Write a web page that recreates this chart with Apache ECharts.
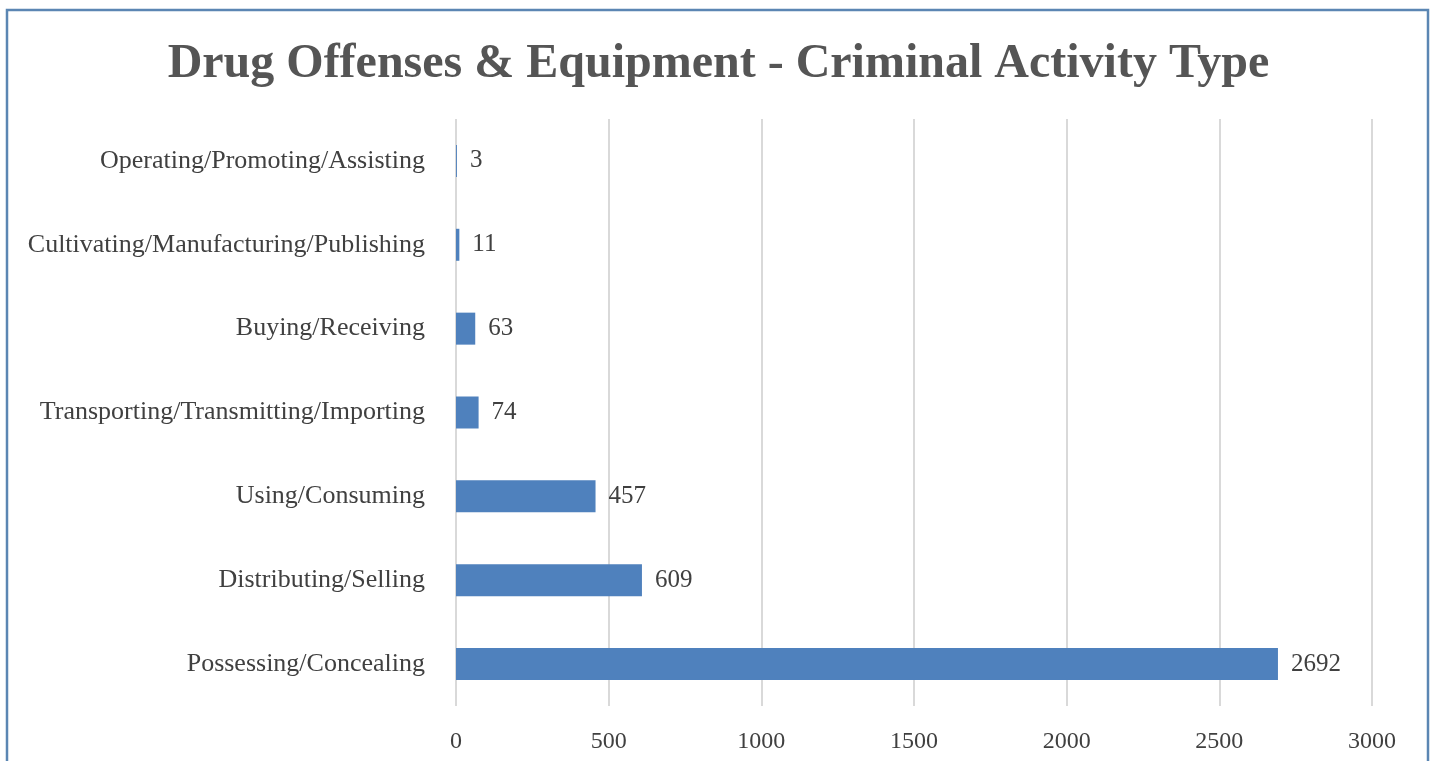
<!DOCTYPE html>
<html><head><meta charset="utf-8">
<script src="https://cdn.jsdelivr.net/npm/echarts@6/dist/echarts.min.js"></script>
<style>html,body{margin:0;padding:0;background:#fff;}#c{width:1437px;height:761px;}</style>
</head><body><div id="c"></div>
<script>
const categories = ["Possessing/Concealing","Distributing/Selling","Using/Consuming","Transporting/Transmitting/Importing","Buying/Receiving","Cultivating/Manufacturing/Publishing","Operating/Promoting/Assisting"];
const values = [2692, 609, 457, 74, 63, 11, 3];
const xTicks = [0, 500, 1000, 1500, 2000, 2500, 3000];
const titleText = "Drug Offenses & Equipment - Criminal Activity Type";

const chart = echarts.init(document.getElementById('c'));
chart.setOption({
  animation: false,
  title: {text: titleText, left: 'center', top: 36,
    textStyle: {fontFamily: 'Liberation Serif', fontWeight: 'bold', fontSize: 48, color: '#555555'}},
  graphic: [{type: 'rect', shape: {x: 7, y: 10, width: 1421, height: 770},
    style: {fill: 'none', stroke: '#5b86b3', lineWidth: 2.5}, silent: true}],
  grid: {left: 456, right: 65, top: 119, bottom: 55, containLabel: false},
  xAxis: {type: 'value', min: 0, max: 3000, interval: 500,
    axisLine: {show: false}, axisTick: {show: false},
    splitLine: {lineStyle: {color: '#d9d9d9', width: 2}},
    axisLabel: {fontFamily: 'Liberation Serif', fontSize: 24, color: '#404040', margin: 24,
      formatter: v => xTicks.includes(v) ? String(v) : ''}},
  yAxis: {type: 'category', data: categories,
    axisLine: {show: false}, axisTick: {show: false},
    axisLabel: {fontFamily: 'Liberation Serif', fontSize: 26, color: '#404040', margin: 31}},
  series: [{type: 'bar', data: values, barWidth: 32,
    itemStyle: {color: '#4f81bd'},
    label: {show: true, position: 'right', distance: 13, fontFamily: 'Liberation Serif', fontSize: 25, color: '#404040'}}]
});
</script></body></html>
